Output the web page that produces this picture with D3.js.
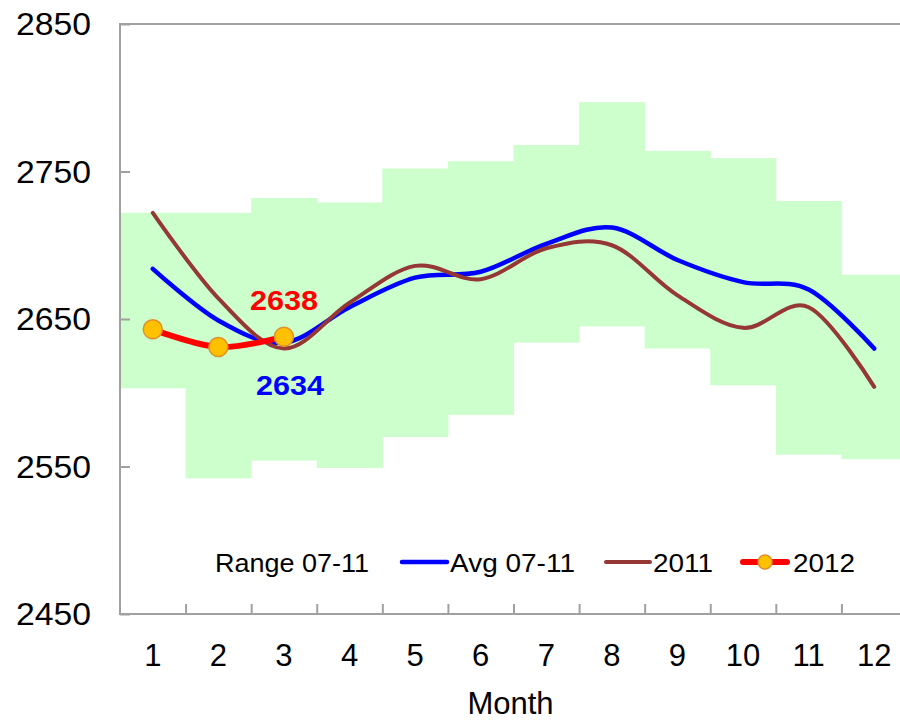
<!DOCTYPE html>
<html>
<head>
<meta charset="utf-8">
<script src="https://cdn.jsdelivr.net/npm/d3@7"></script>
<style>
  body { margin: 0; background: #fff; }
  svg { display: block; font-family: "Liberation Sans", Arial, sans-serif; }
</style>
</head>
<body>
<script>
// Monthly values
const months = [1, 2, 3, 4, 5, 6, 7, 8, 9, 10, 11, 12];
const rangeLow  = [2603, 2542, 2554, 2549, 2570, 2585, 2634, 2645, 2630, 2605, 2558, 2555];
const rangeHigh = [2722, 2722, 2732, 2729, 2752, 2757, 2768, 2797, 2764, 2759, 2730, 2680];
const avg0711   = [2684, 2649, 2634, 2658, 2678, 2682, 2701, 2712, 2690, 2675, 2670, 2630];
const y2011     = [2722, 2664, 2630, 2661, 2686, 2677, 2698, 2700, 2666, 2644, 2658, 2604];
const y2012     = [2643, 2631, 2638];
const yTicks = [2450, 2550, 2650, 2750, 2850];

const width = 900, height = 722;
const svg = d3.select("body").append("svg").attr("width", width).attr("height", height);

const x = d3.scaleLinear().domain([0.5, 12.5]).range([120, 907]);
const y = d3.scaleLinear().domain([2450, 2850]).range([614, 24]);

// Range band, one column per month
svg.append("g").selectAll("rect")
  .data(months)
  .enter().append("rect")
  .attr("x", d => x(d - 0.5))
  .attr("width", x(1.5) - x(0.5) + 0.5)
  .attr("y", (d, i) => y(rangeHigh[i]))
  .attr("height", (d, i) => y(rangeLow[i]) - y(rangeHigh[i]))
  .attr("fill", "#ccffcc");

// Plot frame
const axisColor = "#a0a0a0";
svg.append("rect")
  .attr("x", x(0.5)).attr("y", y(2850))
  .attr("width", x(12.5) - x(0.5)).attr("height", y(2450) - y(2850))
  .attr("fill", "none").attr("stroke", axisColor).attr("stroke-width", 2);

// Axes with inward ticks
const yAxis = d3.axisRight(y).tickValues(yTicks).tickSize(10).tickFormat("");
svg.append("g").attr("transform", `translate(${x(0.5)},0)`).call(yAxis)
  .call(g => g.select(".domain").remove())
  .call(g => g.selectAll("line").attr("stroke", axisColor).attr("stroke-width", 2));

const xAxis = d3.axisTop(x).tickValues(d3.range(1.5, 12, 1)).tickSize(10).tickFormat("");
svg.append("g").attr("transform", `translate(0,${y(2450)})`).call(xAxis)
  .call(g => g.select(".domain").remove())
  .call(g => g.selectAll("line").attr("stroke", axisColor).attr("stroke-width", 2));

// Tick labels
svg.append("g").selectAll("text")
  .data(yTicks)
  .enter().append("text")
  .attr("x", 91).attr("y", d => y(d) + 11)
  .attr("text-anchor", "end").attr("font-size", 31)
  .attr("textLength", 75).attr("lengthAdjust", "spacingAndGlyphs")
  .text(d => d);

svg.append("g").selectAll("text")
  .data(months)
  .enter().append("text")
  .attr("x", d => x(d)).attr("y", 666)
  .attr("text-anchor", "middle").attr("font-size", 31)
  .text(d => d);

svg.append("text")
  .attr("x", x(6.5) - 3).attr("y", 714)
  .attr("text-anchor", "middle").attr("font-size", 31)
  .text("Month");

// Lines
const line = d3.line()
  .x((d, i) => x(months[i]))
  .y(d => y(d))
  .curve(d3.curveCardinal.tension(0));

svg.append("path").datum(avg0711)
  .attr("d", line).attr("fill", "none")
  .attr("stroke", "#0000ff").attr("stroke-width", 4.5).attr("stroke-linecap", "round");

svg.append("path").datum(y2011)
  .attr("d", line).attr("fill", "none")
  .attr("stroke", "#953735").attr("stroke-width", 4).attr("stroke-linecap", "round");

svg.append("path").datum(y2012)
  .attr("d", line).attr("fill", "none")
  .attr("stroke", "#ff0000").attr("stroke-width", 6).attr("stroke-linecap", "round");

svg.append("g").selectAll("circle")
  .data(y2012)
  .enter().append("circle")
  .attr("cx", (d, i) => x(months[i]))
  .attr("cy", d => y(d))
  .attr("r", 9.5)
  .attr("fill", "#ffc000").attr("stroke", "#e0902a").attr("stroke-width", 1.5);

// Data labels for March
svg.append("text")
  .attr("x", x(3)).attr("y", y(y2012[2]) - 27)
  .attr("text-anchor", "middle").attr("font-size", 27).attr("font-weight", "bold")
  .attr("textLength", 68).attr("lengthAdjust", "spacingAndGlyphs")
  .attr("fill", "#ff0000").text(y2012[2]);

svg.append("text")
  .attr("x", x(3) + 6).attr("y", y(avg0711[2]) + 52)
  .attr("text-anchor", "middle").attr("font-size", 27).attr("font-weight", "bold")
  .attr("textLength", 68).attr("lengthAdjust", "spacingAndGlyphs")
  .attr("fill", "#0000ff").text(avg0711[2]);

// Legend
const legendY = 562;
const legend = svg.append("g").attr("font-size", 25).attr("lengthAdjust", "spacingAndGlyphs");

legend.append("text").attr("x", 215).attr("y", legendY + 10)
  .attr("textLength", 154).attr("lengthAdjust", "spacingAndGlyphs").text("Range 07-11");

legend.append("line").attr("x1", 402).attr("x2", 447).attr("y1", legendY).attr("y2", legendY)
  .attr("stroke", "#0000ff").attr("stroke-width", 4.5).attr("stroke-linecap", "round");
legend.append("text").attr("x", 450).attr("y", legendY + 10)
  .attr("textLength", 125).attr("lengthAdjust", "spacingAndGlyphs").text("Avg 07-11");

legend.append("line").attr("x1", 606).attr("x2", 650).attr("y1", legendY).attr("y2", legendY)
  .attr("stroke", "#953735").attr("stroke-width", 4).attr("stroke-linecap", "round");
legend.append("text").attr("x", 653).attr("y", legendY + 10)
  .attr("textLength", 60).attr("lengthAdjust", "spacingAndGlyphs").text("2011");

legend.append("line").attr("x1", 743).attr("x2", 787).attr("y1", legendY).attr("y2", legendY)
  .attr("stroke", "#ff0000").attr("stroke-width", 6).attr("stroke-linecap", "round");
legend.append("circle").attr("cx", 765).attr("cy", legendY).attr("r", 7)
  .attr("fill", "#ffc000").attr("stroke", "#e0902a").attr("stroke-width", 1.5);
legend.append("text").attr("x", 793).attr("y", legendY + 10)
  .attr("textLength", 62).attr("lengthAdjust", "spacingAndGlyphs").text("2012");
</script>
</body>
</html>
